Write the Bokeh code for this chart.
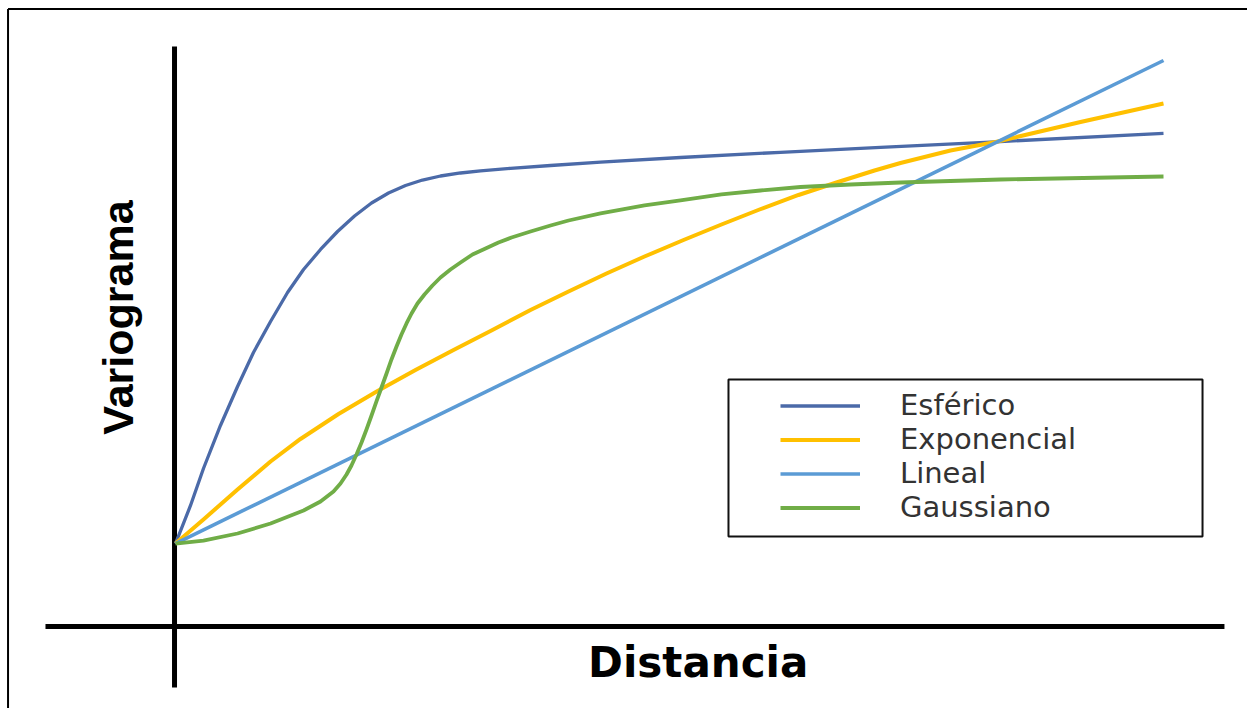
from bokeh.plotting import figure
from bokeh.models import Range1d, Label, Legend, LegendItem, BoxAnnotation
from bokeh.embed import file_html
from bokeh.resources import INLINE
import math

# ---- data (distance units 0..100, variogram units 0..100) ----
esferico_dist = [0, 1.52, 2.83, 4.55, 6.28, 7.89, 9.62, 11.34, 12.96, 14.68, 16.40, 18.12,
                 19.84, 21.56, 23.28, 25.00, 26.82, 28.85, 30.87, 33.91, 37.96, 43.02,
                 51.11, 61.23, 71.36, 83.50, 100]
esferico = [14.81, 21.52, 28.04, 35.63, 42.50, 48.50, 53.97, 59.08, 63.14, 66.67, 69.84,
            72.57, 74.87, 76.63, 77.95, 78.92, 79.63, 80.16, 80.55, 80.99, 81.48, 82.06,
            82.89, 83.81, 84.69, 85.71, 87.13]

exponencial_dist = [0, 2.83, 6.28, 9.62, 12.65, 16.50, 20.45, 24.29, 28.14, 31.98, 35.93,
                    39.78, 43.62, 47.47, 51.42, 55.26, 59.11, 63.06, 66.90, 70.75, 73.38,
                    78.44, 83.00, 91.60, 100]
exponencial = [14.81, 19.05, 24.34, 29.28, 33.25, 37.65, 41.71, 45.41, 48.94, 52.38, 56.00,
               59.26, 62.43, 65.43, 68.34, 71.08, 73.72, 76.28, 78.48, 80.60, 81.92,
               84.13, 85.63, 89.15, 92.42]

lineal_dist = [0, 100]
lineal = [14.81, 100.0]

gaussiano_dist = [0, 2.83, 6.28, 9.62, 12.96, 14.68, 15.99, 16.70, 17.31, 17.81, 18.32,
                  18.83, 19.33, 19.84, 20.34, 20.85, 21.36, 21.86, 22.37, 22.87, 23.38,
                  23.89, 24.49, 25.20, 26.01, 26.82, 27.83, 28.85, 30.06, 31.38, 32.69,
                  34.01, 35.93, 37.96, 39.78, 43.02, 47.47, 51.11, 55.26, 59.21, 63.26,
                  68.32, 73.38, 83.50, 100]
gaussiano = [14.81, 15.34, 16.58, 18.34, 20.63, 22.22, 23.99, 25.40, 26.98, 28.57, 30.51,
             32.63, 34.92, 37.39, 39.86, 42.33, 44.80, 47.27, 49.56, 51.68, 53.62, 55.38,
             57.14, 58.73, 60.32, 61.73, 63.14, 64.37, 65.78, 66.84, 67.90, 68.78, 69.84,
             70.90, 71.78, 73.02, 74.43, 75.31, 76.37, 77.07, 77.69, 78.13, 78.48, 79.01,
             79.54]

series_names = ["Esférico", "Exponencial", "Lineal", "Gaussiano"]
series_colors = ["#4B6AA8", "#FFC000", "#5B9BD5", "#70AD47"]

W, H = 1247, 708
p = figure(width=W, height=H, output_backend="svg", toolbar_location=None,
           x_axis_type=None, y_axis_type=None,
           x_range=Range1d(-17.713, 108.502), y_range=Range1d(-14.286, 110.582),
           min_border=0, min_border_left=0, min_border_right=0,
           min_border_top=0, min_border_bottom=0)
p.outline_line_color = None
p.background_fill_color = "white"
p.border_fill_color = "white"

# image frame (top and left edges)
p.segment(x0=[-16.95, -16.95], y0=[109.08, 109.08], x1=[109.0, -16.95], y1=[109.08, -15.0],
          line_color="black", line_width=2)

# axes as thick lines
p.segment(x0=[-0.1], y0=[-10.58], x1=[-0.1], y1=[102.47], line_color="black", line_width=5)
p.segment(x0=[-13.16], y0=[0.18], x1=[106.17], y1=[0.18], line_color="black", line_width=5)

r_esf = p.line(esferico_dist, esferico, line_color=series_colors[0], line_width=3.3,
               line_join="round")
r_exp = p.line(exponencial_dist, exponencial, line_color=series_colors[1], line_width=4,
               line_join="round")
r_lin = p.line(lineal_dist, lineal, line_color=series_colors[2], line_width=3.6)
r_gau = p.line(gaussiano_dist, gaussiano, line_color=series_colors[3], line_width=3.8,
               line_join="round")

# legend frame
p.add_layout(BoxAnnotation(left=55.97, right=103.95, bottom=16.05, top=43.74,
                           fill_alpha=0, line_color="#111111", line_alpha=1.0,
                           line_width=2))

legend = Legend(items=[LegendItem(label=series_names[0], renderers=[r_esf]),
                       LegendItem(label=series_names[1], renderers=[r_exp]),
                       LegendItem(label=series_names[2], renderers=[r_lin]),
                       LegendItem(label=series_names[3], renderers=[r_gau])],
                location=(768, 172), padding=12, spacing=0, margin=0,
                glyph_width=80, glyph_height=33, label_height=33, label_standoff=40,
                border_line_alpha=0, background_fill_alpha=0,
                label_text_font="DejaVu Sans", label_text_font_size="29px",
                label_text_color="#333333")
p.add_layout(legend, "center")

p.add_layout(Label(x=52.9, y=-6.17, text="Distancia", text_align="center",
                   text_baseline="alphabetic", text_font="DejaVu Sans",
                   text_font_style="bold", text_font_size="42px", text_color="black"))
p.add_layout(Label(x=-5.87, y=54.67, text="Variograma", angle=math.pi / 2,
                   text_align="center", text_baseline="alphabetic",
                   text_font="Liberation Sans", text_font_style="bold",
                   text_font_size="43px", text_color="black"))

open("out.html", "w").write(file_html(p, INLINE))
